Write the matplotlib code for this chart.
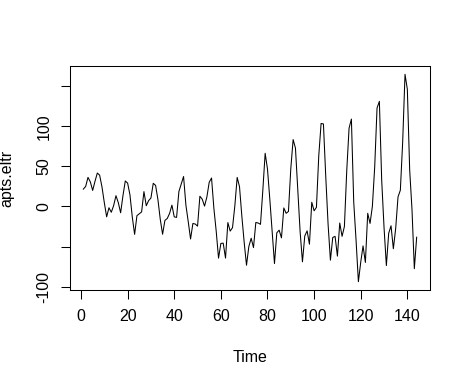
import numpy as np
import matplotlib
matplotlib.use("Agg")
from matplotlib import pyplot as plt

# detrended series (one value per month, 144 points)
apts_eltr = [
    21.69, 25.03, 36.38, 30.72, 20.06, 31.40, 41.75, 39.09, 24.43, 4.78, -12.88, -1.54,
    -7.20, 1.15, 13.49, 4.83, -7.83, 13.52, 31.86, 29.20, 14.55, -13.11, -34.77, -11.43,
    -9.08, -6.74, 18.60, 0.95, 7.29, 10.63, 28.97, 26.32, 8.66, -16.00, -34.65, -17.31,
    -14.97, -8.63, 1.72, -12.94, -13.60, 18.75, 28.09, 37.43, 1.77, -18.88, -40.54, -21.20,
    -21.85, -24.51, 12.83, 9.17, 0.52, 11.86, 30.20, 35.55, -2.11, -30.77, -64.43, -46.08,
    -45.74, -64.40, -20.06, -30.71, -26.37, 0.97, 36.32, 24.66, -12.00, -44.66, -73.31, -49.97,
    -39.63, -51.28, -19.94, -20.60, -22.26, 20.09, 66.43, 46.77, 9.12, -31.54, -71.20, -32.86,
    -29.51, -39.17, -1.83, -8.48, -6.14, 47.20, 83.54, 72.89, 20.23, -31.43, -69.08, -36.74,
    -30.40, -47.06, 5.29, -5.37, -1.03, 63.32, 103.66, 103.00, 37.34, -22.31, -66.97, -38.63,
    -37.28, -61.94, -20.60, -37.26, -24.91, 44.43, 97.77, 109.12, 5.46, -42.20, -93.86, -69.51,
    -49.17, -69.83, -8.49, -21.14, 0.20, 49.54, 122.89, 131.23, 32.57, -26.09, -73.74, -33.40,
    -24.06, -52.71, -27.37, 11.97, 20.31, 80.66, 165.00, 146.34, 45.69, -3.97, -77.63, -38.29,
]
time_idx = list(range(1, len(apts_eltr) + 1))

x_ticks = [0, 20, 40, 60, 80, 100, 120, 140]
y_ticks = [-100, -50, 0, 50, 100, 150]
y_tick_labels = ["-100", "", "0", "50", "100", ""]

plt.rcParams["font.family"] = ["Liberation Sans", "DejaVu Sans"]
plt.rcParams["font.size"] = 11.5

fig = plt.figure(figsize=(4.54, 3.78), dpi=100)
W, H = 454, 378
ax = fig.add_axes([70 / W, 1 - 290 / H, 360 / W, 224 / H])

ax.plot(time_idx, apts_eltr, color="black", lw=0.75)

# R style 4% padding
xr = max(time_idx) - min(time_idx)
yr = max(apts_eltr) - min(apts_eltr)
ax.set_xlim(min(time_idx) - 0.04 * xr, max(time_idx) + 0.04 * xr)
ax.set_ylim(min(apts_eltr) - 0.04 * yr, max(apts_eltr) + 0.04 * yr)

ax.set_xticks(x_ticks)
ax.set_yticks(y_ticks)
ax.set_yticklabels(y_tick_labels, rotation=90, va="center")
ax.tick_params(axis="x", length=6.5, width=0.75, pad=7.5)
ax.tick_params(axis="y", length=6.5, width=0.75, pad=7)
for s in ax.spines.values():
    s.set_linewidth(0.75)

fig.text(250 / W, 1 - 358 / H, "Time", ha="center", va="center")
fig.text(7 / W, 1 - 178 / H, "apts.eltr", ha="center", va="center", rotation=90)

fig.savefig("out.png", dpi=100)
